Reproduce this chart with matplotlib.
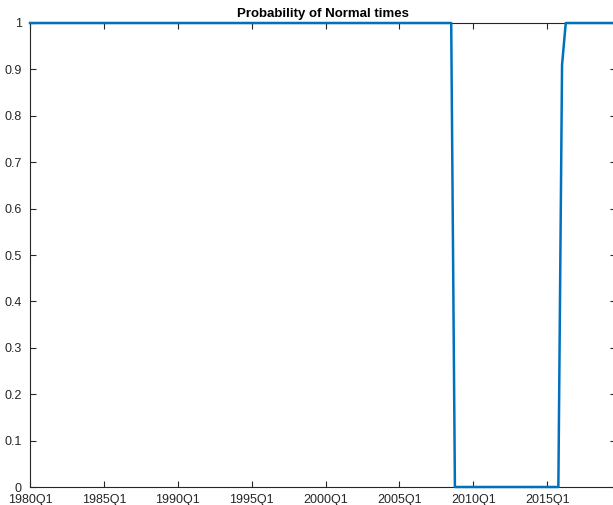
import numpy as np
import matplotlib.pyplot as plt

plt.rcParams['font.family'] = ['Liberation Sans', 'DejaVu Sans']

# quarterly index from 1980Q1
n_quarters = 159
prob_normal = np.ones(n_quarters)
prob_normal[115:144] = 0.0
prob_normal[144] = 0.91

tick_pos = [0, 20, 40, 60, 80, 100, 120, 140]
tick_labels = ['1980Q1', '1985Q1', '1990Q1', '1995Q1', '2000Q1', '2005Q1', '2010Q1', '2015Q1']
y_ticks = np.round(np.arange(0, 1.01, 0.1), 1)
y_labels = ['0', '0.1', '0.2', '0.3', '0.4', '0.5', '0.6', '0.7', '0.8', '0.9', '1']

fig = plt.figure(figsize=(6.13, 5.05), dpi=100)
ax = fig.add_axes([30 / 613, 18 / 505, 586 / 613, 464 / 505])

t = np.arange(n_quarters)
ax.plot(t, prob_normal, color=(0, 0.447, 0.741), linewidth=1.8, clip_on=False, zorder=3)

ax.set_xlim(0, 158.6)
ax.set_ylim(0, 1)
ax.set_xticks(tick_pos)
ax.set_xticklabels(tick_labels)
ax.set_yticks(y_ticks)
ax.set_yticklabels(y_labels)

grey = (0.15, 0.15, 0.15)
for s in ax.spines.values():
    s.set_color(grey)
    s.set_linewidth(0.8)
ax.tick_params(direction='in', length=4, width=0.8, colors=grey, labelsize=9,
               top=True, right=True, pad=5)
ax.tick_params(axis='y', pad=6)

ax.set_title('Probability of Normal times', fontsize=9.5, fontweight='bold', pad=4)

fig.savefig('out.png', dpi=100)
